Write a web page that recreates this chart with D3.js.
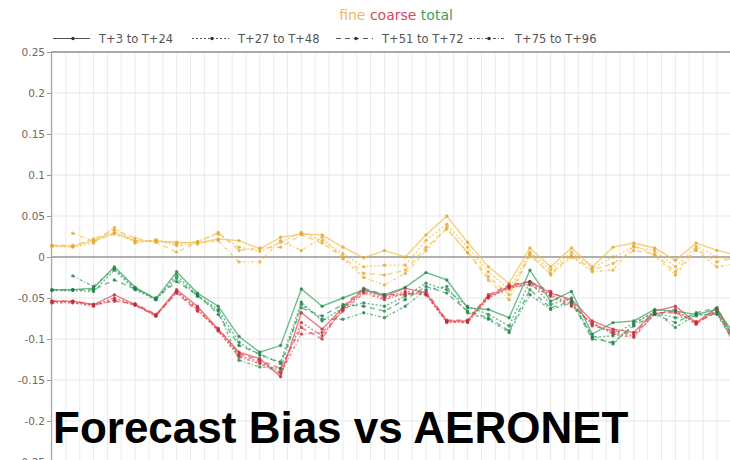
<!DOCTYPE html>
<html>
<head>
<meta charset="utf-8">
<script src="https://cdn.jsdelivr.net/npm/d3@7/dist/d3.min.js"></script>
<style>
  body { margin: 0; background: #fff; }
  svg { display: block; }
</style>
</head>
<body>
<svg id="chart" width="730" height="460"></svg>
<script>
// Verification steps along the x axis (12-hourly index)
const steps = d3.range(34);
const yTicks = [0.25, 0.2, 0.15, 0.1, 0.05, 0, -0.05, -0.1, -0.15, -0.2, -0.25];
const leadTimes = ["T+3 to T+24", "T+27 to T+48", "T+51 to T+72", "T+75 to T+96"];
const components = ["fine", "coarse", "total"];

// Fine-mode AOD bias
const fineLead1 = [0.014, 0.013, 0.020, 0.030, 0.020, 0.019, 0.018, 0.017, 0.022, 0.020, 0.010, 0.024, 0.028, 0.027, 0.012, -0.001, 0.008, 0.000, 0.027, 0.050, 0.018, -0.012, -0.032, 0.011, -0.012, 0.011, -0.012, 0.012, 0.017, 0.011, -0.004, 0.017, 0.008, 0.002];
const fineLead2 = [0.013, 0.012, 0.017, 0.036, 0.017, 0.021, 0.016, 0.019, 0.028, 0.012, 0.007, 0.018, 0.030, 0.020, 0.004, -0.012, -0.010, -0.010, 0.020, 0.040, 0.012, -0.018, -0.040, 0.006, -0.016, 0.006, -0.014, 0.000, 0.012, 0.008, -0.012, 0.013, 0.000, -0.004];
const fineLead3 = [0.014, 0.014, 0.022, 0.033, 0.023, 0.018, 0.006, 0.018, 0.030, 0.008, 0.011, 0.012, 0.027, 0.017, 0.000, -0.020, -0.022, -0.016, 0.012, 0.034, 0.006, -0.024, -0.046, 0.002, -0.020, 0.002, -0.016, -0.008, 0.008, 0.004, -0.018, 0.010, -0.006, 0.000];
const fineLead4 = [null, 0.029, 0.019, 0.028, 0.019, 0.020, 0.014, 0.016, 0.020, -0.006, -0.006, 0.020, 0.008, 0.024, -0.002, -0.025, -0.034, -0.020, 0.008, 0.036, 0.005, -0.028, -0.052, 0.004, -0.022, 0.000, -0.018, -0.016, 0.014, 0.002, -0.022, 0.008, -0.012, -0.008];

// Coarse-mode AOD bias
const coarseLead1 = [-0.054, -0.054, -0.058, -0.046, -0.058, -0.071, -0.040, -0.060, -0.088, -0.116, -0.124, -0.146, -0.068, -0.088, -0.062, -0.040, -0.048, -0.038, -0.044, -0.078, -0.078, -0.048, -0.036, -0.030, -0.044, -0.052, -0.078, -0.088, -0.092, -0.066, -0.060, -0.080, -0.062, -0.108];
const coarseLead2 = [-0.055, -0.055, -0.059, -0.050, -0.058, -0.072, -0.043, -0.064, -0.090, -0.120, -0.128, -0.140, -0.080, -0.096, -0.064, -0.042, -0.050, -0.042, -0.046, -0.080, -0.079, -0.050, -0.038, -0.032, -0.046, -0.058, -0.082, -0.092, -0.096, -0.070, -0.064, -0.081, -0.066, -0.112];
const coarseLead3 = [-0.054, -0.054, -0.058, -0.054, -0.057, -0.070, -0.044, -0.066, -0.087, -0.118, -0.126, -0.136, -0.086, -0.100, -0.060, -0.038, -0.046, -0.046, -0.042, -0.077, -0.077, -0.046, -0.034, -0.030, -0.042, -0.055, -0.084, -0.090, -0.094, -0.068, -0.068, -0.079, -0.068, -0.110];
const coarseLead4 = [-0.056, -0.056, -0.060, -0.052, -0.059, -0.072, -0.042, -0.062, -0.090, -0.122, -0.130, -0.142, -0.094, -0.092, -0.066, -0.044, -0.052, -0.044, -0.046, -0.079, -0.080, -0.049, -0.037, -0.034, -0.048, -0.060, -0.080, -0.094, -0.098, -0.069, -0.066, -0.082, -0.064, -0.116];

// Total AOD bias
const totalLead1 = [-0.040, -0.040, -0.038, -0.012, -0.037, -0.051, -0.018, -0.044, -0.060, -0.097, -0.116, -0.108, -0.039, -0.060, -0.050, -0.040, -0.046, -0.037, -0.019, -0.028, -0.062, -0.064, -0.074, -0.016, -0.054, -0.042, -0.094, -0.080, -0.078, -0.064, -0.066, -0.070, -0.064, -0.100];
const totalLead2 = [-0.041, -0.041, -0.042, -0.016, -0.040, -0.052, -0.022, -0.047, -0.064, -0.104, -0.120, -0.128, -0.055, -0.078, -0.062, -0.056, -0.060, -0.048, -0.032, -0.040, -0.060, -0.070, -0.084, -0.030, -0.058, -0.050, -0.098, -0.096, -0.080, -0.068, -0.074, -0.072, -0.068, -0.104];
const totalLead3 = [-0.040, -0.040, -0.040, -0.028, -0.039, -0.050, -0.030, -0.046, -0.070, -0.108, -0.118, -0.130, -0.062, -0.072, -0.058, -0.060, -0.066, -0.052, -0.036, -0.044, -0.066, -0.074, -0.090, -0.040, -0.062, -0.054, -0.100, -0.104, -0.084, -0.070, -0.080, -0.068, -0.062, -0.108];
const totalLead4 = [null, -0.023, -0.036, -0.014, -0.038, -0.052, -0.026, -0.048, -0.066, -0.126, -0.134, -0.136, -0.058, -0.076, -0.076, -0.068, -0.074, -0.060, -0.040, -0.036, -0.068, -0.076, -0.092, -0.046, -0.064, -0.056, -0.096, -0.106, -0.082, -0.066, -0.086, -0.070, -0.070, -0.112];

const componentColors = { fine: "#f4bd45", coarse: "#e2464f", total: "#32a060" };
const markerColors = { fine: "#e2a42c", coarse: "#b82a36", total: "#1e7a45" };
const subtitleColors = { fine: "#f0b85a", coarse: "#d8455c", total: "#3d9d5e" };
const dashes = ["", "2,2", "5,4", "3,2,1,2"];

const seriesTable = [
  { comp: "fine", lead: 0, values: fineLead1 },
  { comp: "fine", lead: 1, values: fineLead2 },
  { comp: "fine", lead: 2, values: fineLead3 },
  { comp: "fine", lead: 3, values: fineLead4 },
  { comp: "coarse", lead: 0, values: coarseLead1 },
  { comp: "coarse", lead: 1, values: coarseLead2 },
  { comp: "coarse", lead: 2, values: coarseLead3 },
  { comp: "coarse", lead: 3, values: coarseLead4 },
  { comp: "total", lead: 0, values: totalLead1 },
  { comp: "total", lead: 1, values: totalLead2 },
  { comp: "total", lead: 2, values: totalLead3 },
  { comp: "total", lead: 3, values: totalLead4 }
];

const svg = d3.select("#chart");
const plotLeft = 51, plotTop = 52, plotBottom = 462;

const x = d3.scaleLinear().domain([0, 33]).range([52, 737.7]);
const y = d3.scaleLinear().domain([-0.25, 0.25]).range([plotBottom, plotTop]);

// grid
const grid = svg.append("g");
grid.selectAll("line.v")
  .data(d3.range(0, 34, 2 / 3))
  .join("line")
  .attr("x1", d => x(d)).attr("x2", d => x(d))
  .attr("y1", plotTop).attr("y2", 460)
  .attr("stroke", "#ebebeb").attr("stroke-width", 1);
grid.selectAll("line.h")
  .data(yTicks)
  .join("line")
  .attr("x1", plotLeft).attr("x2", 730)
  .attr("y1", d => y(d)).attr("y2", d => y(d))
  .attr("stroke", "#e6e6e6").attr("stroke-width", 1);

// top frame and zero line
svg.append("line")
  .attr("x1", plotLeft).attr("x2", 730).attr("y1", y(0.25)).attr("y2", y(0.25))
  .attr("stroke", "#a8a8a8").attr("stroke-width", 2);
svg.append("line")
  .attr("x1", plotLeft).attr("x2", 730).attr("y1", y(0)).attr("y2", y(0))
  .attr("stroke", "#9a9a9a").attr("stroke-width", 1.5);

// y axis
const yAxis = svg.append("g")
  .attr("transform", `translate(${plotLeft},0)`)
  .call(d3.axisLeft(y).tickValues(yTicks).tickFormat(d => String(d)).tickSize(4).tickPadding(2));
yAxis.select(".domain").attr("stroke", "#a8a8a8").attr("stroke-width", 1.2);
yAxis.selectAll(".tick line").attr("stroke", "#999");
yAxis.selectAll(".tick text")
  .attr("fill", "#6a6a6a")
  .style("font-family", "'DejaVu Sans', sans-serif")
  .style("font-size", "10.5px");

// series lines
const line = d3.line()
  .defined(d => d.v !== null)
  .x(d => x(d.i))
  .y(d => y(d.v));

const plot = svg.append("g");
seriesTable.forEach(s => {
  const pts = s.values.map((v, i) => ({ i: steps[i], v }));
  plot.append("path")
    .datum(pts)
    .attr("d", line)
    .attr("fill", "none")
    .attr("stroke", componentColors[s.comp])
    .attr("stroke-opacity", 0.7)
    .attr("stroke-width", 1.4)
    .attr("stroke-dasharray", dashes[s.lead]);
  plot.selectAll(null)
    .data(pts.filter(d => d.v !== null))
    .join("circle")
    .attr("cx", d => x(d.i))
    .attr("cy", d => y(d.v))
    .attr("r", 1.7)
    .attr("fill", markerColors[s.comp])
    .attr("fill-opacity", 0.75);
});

// subtitle with component colours
const sub = svg.append("text")
  .attr("x", 396).attr("y", 20)
  .attr("text-anchor", "middle")
  .style("font-family", "'DejaVu Sans', sans-serif")
  .style("font-size", "14px");
components.forEach((c, k) => {
  sub.append("tspan")
    .attr("fill", subtitleColors[c])
    .text((k > 0 ? " " : "") + c);
});

// lead-time legend
const legendX = [53, 192, 336, 469];
const legend = svg.append("g");
leadTimes.forEach((lab, k) => {
  const g = legend.append("g").attr("transform", `translate(${legendX[k]},38.5)`);
  g.append("line")
    .attr("x1", 0).attr("x2", 37).attr("y1", 0).attr("y2", 0)
    .attr("stroke", "#555").attr("stroke-width", 1)
    .attr("stroke-dasharray", dashes[k]);
  g.append("circle").attr("cx", 20).attr("cy", 0).attr("r", 1.7).attr("fill", "#333");
  g.append("text")
    .attr("x", 46).attr("y", 4)
    .attr("fill", "#555")
    .style("font-family", "'DejaVu Sans', sans-serif")
    .style("font-size", "11.5px")
    .text(lab);
});

// chart title
svg.append("text")
  .attr("x", 53).attr("y", 443)
  .attr("fill", "#000")
  .style("font-family", "'Liberation Sans', Arial, sans-serif")
  .style("font-weight", "bold")
  .style("font-size", "44px")
  .text("Forecast Bias vs AERONET");
</script>
</body>
</html>
